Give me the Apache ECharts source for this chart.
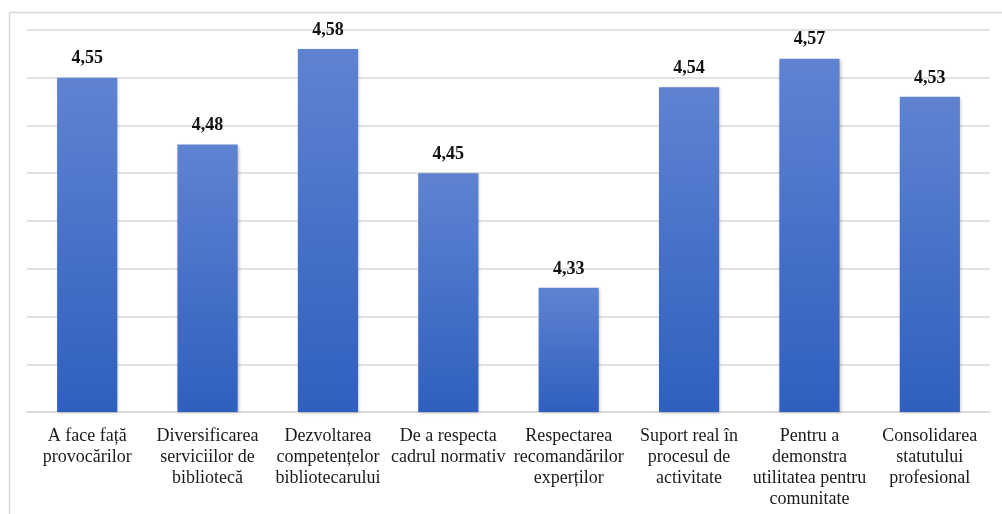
<!DOCTYPE html>
<html>
<head>
<meta charset="utf-8">
<script src="https://cdn.jsdelivr.net/npm/echarts@6/dist/echarts.min.js"></script>
<style>
  html, body { margin: 0; padding: 0; background: #ffffff; }
  #chart { width: 1002px; height: 514px; }
</style>
</head>
<body>
<div id="chart"></div>
<script>
// Categories (with manual line breaks) and mean scores
const categories = [
  'A face față\nprovocărilor',
  'Diversificarea\nserviciilor de\nbibliotecă',
  'Dezvoltarea\ncompetențelor\nbibliotecarului',
  'De a respecta\ncadrul normativ',
  'Respectarea\nrecomandărilor\nexperților',
  'Suport real în\nprocesul de\nactivitate',
  'Pentru a\ndemonstra\nutilitatea pentru\ncomunitate',
  'Consolidarea\nstatutului\nprofesional'
];
const scores = [4.55, 4.48, 4.58, 4.45, 4.33, 4.54, 4.57, 4.53];

const axisMin = 4.2;
const axisMax = 4.6;
const axisStep = 0.05;

const chart = echarts.init(document.getElementById('chart'), null, { renderer: 'canvas' });

const serif = '"Liberation Serif", "Times New Roman", serif';

chart.setOption({
  animation: false,
  backgroundColor: '#ffffff',
  graphic: [{
    type: 'rect',
    left: 7,
    top: 10,
    shape: { width: 1200, height: 700 },
    style: { fill: 'none', stroke: '#d9d9d9', lineWidth: 1.5 },
    silent: true,
    z: -1
  }],
  grid: { left: 27, right: 12, top: 30, bottom: 102, containLabel: false },
  xAxis: {
    type: 'category',
    data: categories,
    axisTick: { show: false },
    axisLine: { show: true, lineStyle: { color: '#d9d9d9', width: 1.5 } },
    axisLabel: {
      interval: 0,
      margin: 14,
      color: '#1a1a1a',
      fontFamily: serif,
      fontSize: 18,
      lineHeight: 21,
      overflow: 'none'
    }
  },
  yAxis: {
    type: 'value',
    min: axisMin,
    max: axisMax,
    interval: axisStep,
    axisLabel: { show: false },
    axisLine: { show: false },
    axisTick: { show: false },
    splitLine: { lineStyle: { color: '#d9d9d9', width: 1.5 } }
  },
  series: [{
    type: 'bar',
    data: scores,
    barWidth: '50%',
    itemStyle: {
      color: new echarts.graphic.LinearGradient(0, 0, 0, 1, [
        { offset: 0, color: '#5f83d1' },
        { offset: 1, color: '#2f5fbf' }
      ]),
      shadowColor: 'rgba(0,0,0,0.25)',
      shadowBlur: 3,
      shadowOffsetX: 1,
      shadowOffsetY: 1
    },
    label: {
      show: true,
      position: 'top',
      distance: 10,
      color: '#111111',
      fontFamily: serif,
      fontWeight: 'bold',
      fontSize: 18,
      formatter: (p) => p.value.toFixed(2).replace('.', ',')
    }
  }]
});
</script>
</body>
</html>
